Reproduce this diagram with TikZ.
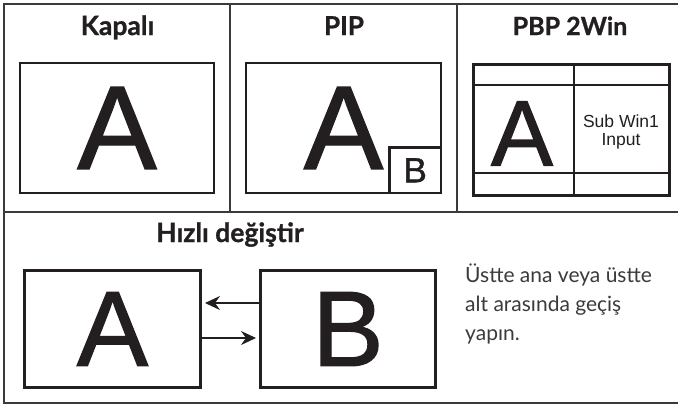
\documentclass[tikz,border=0pt]{standalone}
\usepackage{fontspec}
\setmainfont{Lato}
\newfontfamily\arialfont{Liberation Sans}[FakeBold=1.2,UprightFeatures={FakeBold=1.2}]
\newfontfamily\headfont{Lato}[UprightFeatures={FakeBold=1.0},BoldFeatures={FakeBold=1.0}]
\usetikzlibrary{arrows.meta,calc}
\definecolor{ink}{HTML}{231F20}
\definecolor{rulecol}{HTML}{3A3A3A}
\begin{document}
\begin{tikzpicture}[x=1pt,y=-1pt,
  frameline/.style={draw=rulecol,line width=1.1pt},
  screen/.style={draw=ink,line width=2.6pt,inner sep=0pt,text=ink},
  innerline/.style={draw=ink,line width=2.6pt},
  title/.style={font=\headfont\bfseries\fontsize{26}{26}\selectfont,text=ink,anchor=base,inner sep=0pt},
  bigA/.style={font=\arialfont\fontsize{119}{119}\selectfont},
  desc/.style={font=\fontsize{21}{29}\selectfont,text=ink!88,anchor=base west,inner sep=0pt},
  arr/.style={draw=ink,line width=1.3pt,shorten >=3pt,-{Stealth[length=15pt,width=14pt,inset=5pt]}}
]
\useasboundingbox (0,0) rectangle (678,405);
\fill[white] (0,0) rectangle (678,405);

% frame
\draw[frameline] (678,4) -- (4,4) -- (4,403) -- (678,403);
\draw[frameline] (4,212) -- (678,212);
\draw[frameline] (230,4) -- (230,212);
\draw[frameline] (457,4) -- (457,212);

% titles
\node[title,font=\headfont\bfseries\fontsize{26.5}{26.5}\selectfont] (tkap) at (117.5,35) {Kapalı};
\node[title] (tpip) at (344,35) {PIP};
\node[title,font=\headfont\bfseries\fontsize{25}{25}\selectfont] (tpbp) at (570,35) {PBP 2Win};
\node[title,font=\headfont\bfseries\fontsize{26.5}{26.5}\selectfont] (tswap) at (230,242) {Hızlı değiştir};

% Kapali
\node[screen,bigA,minimum width=194pt,minimum height=130pt] (kap) at (117,128) {A};

% PIP
\node[screen,bigA,minimum width=195pt,minimum height=130pt] (pip) at (343.5,128) {A};
\node[screen,anchor=south east,minimum width=51.5pt,minimum height=45.5pt,
      font=\arialfont\fontsize{35}{35}\selectfont] (pipB) at (pip.south east) {B};

% PBP
\node[screen,minimum width=196.5pt,minimum height=131.5pt] (pbp) at (571.5,130) {};
\coordinate (vx) at (574,0);
\coordinate (h1) at (0,85);
\coordinate (h2) at (0,173);
\draw[innerline] (pbp.north -| vx) -- (pbp.south -| vx);
\draw[innerline] (pbp.west |- h1) -- (pbp.east |- h1);
\draw[innerline] (pbp.west |- h2) -- (pbp.east |- h2);
\node[font=\arialfont\fontsize{93}{93}\selectfont,text=ink,inner sep=0pt] (pbpA) at (522,133.5) {A};
\node[font=\fontspec{Liberation Sans}\fontsize{17.5}{18.5}\selectfont,text=ink,align=center,inner sep=0pt] (sub) at (621,132) {Sub Win1\\Input};

% swap
\node[screen,minimum width=176.4pt,minimum height=117.4pt,
      font=\arialfont\fontsize{107}{107}\selectfont] (swA) at (112.5,329) {A};
\node[screen,minimum width=175.4pt,minimum height=117.4pt,
      font=\arialfont\fontsize{107}{107}\selectfont] (swB) at (348,329) {B};
\draw[arr] ([yshift=26pt]swB.west) -- ([yshift=26pt]swA.east);
\draw[arr] ([yshift=-9pt]swA.east) -- ([yshift=-9pt]swB.west);

% description
\node[desc] (d1) at (465,282) {Üstte ana veya üstte};
\node[desc] (d2) at (465,311) {alt arasında geçiş};
\node[desc] (d3) at (465,340) {yapın.};
\end{tikzpicture}
\end{document}
